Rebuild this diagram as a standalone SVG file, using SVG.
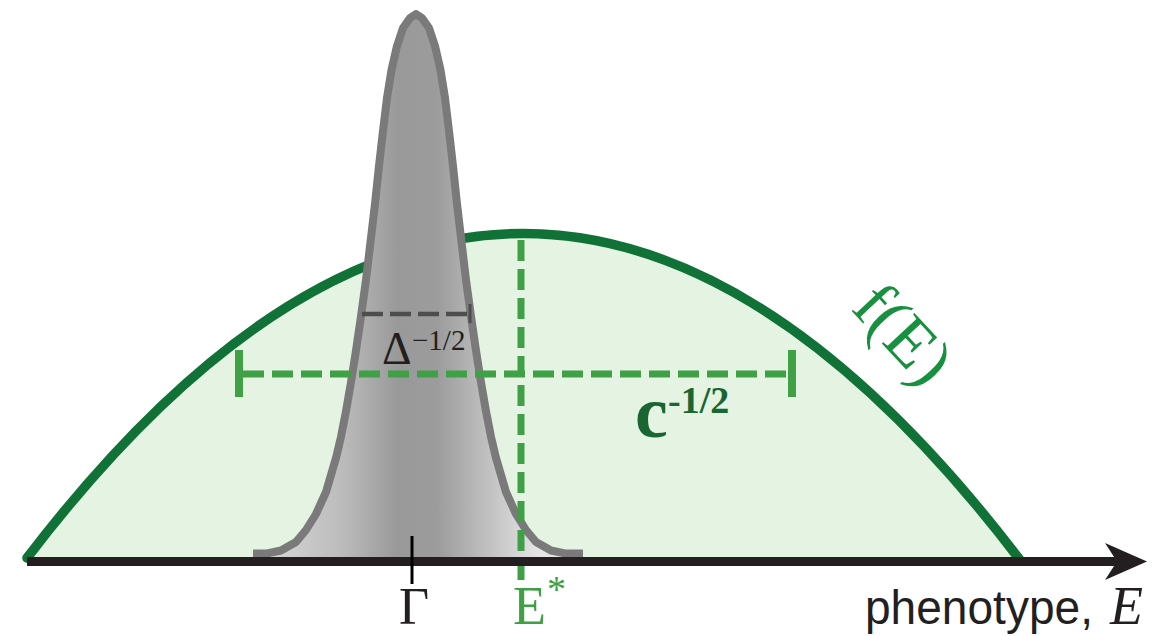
<svg xmlns="http://www.w3.org/2000/svg" width="1173" height="636" viewBox="0 0 1173 636">
  <defs>
    <linearGradient id="gaussGrad" gradientUnits="userSpaceOnUse" x1="253" y1="0" x2="583" y2="0">
      <stop offset="0" stop-color="#dcdcdc"/>
      <stop offset="0.26" stop-color="#bdbdbd"/>
      <stop offset="0.44" stop-color="#999999"/>
      <stop offset="0.56" stop-color="#9c9c9c"/>
      <stop offset="0.71" stop-color="#c0c0c0"/>
      <stop offset="0.86" stop-color="#e4e4e4"/>
      <stop offset="1" stop-color="#efefef"/>
    </linearGradient>
  </defs>
  <style>
    .gdash { fill: none; stroke: #3fa046; stroke-width: 7; stroke-dasharray: 21 8; }
    .gtick { stroke: #3fa046; stroke-width: 8; }
    .serif { font-family: "Liberation Serif", "Times New Roman", serif; }
    .sans { font-family: "Liberation Sans", Arial, sans-serif; }
  </style>

  <g id="fitness">
    <path d="M27,558 Q523.5,-92 1020,560 Z" fill="#e4f3e2"/>
    <path d="M27,558 Q523.5,-92 1020,560" fill="none" stroke="#107236" stroke-width="9.5" stroke-linecap="round"/>
  </g>

  <g id="distribution">
    <path d="M253,553.5 L266,553.6 L281,550.5 L296,542 L306,530 L316,514 L326,492 L336,458 L341,436.8 L346,411.2 L351,382.4 L356,350.6 L361,316.3 L366,280 L370.5,242 L375,204 L379,166 L383,131 L387,98 L391.5,70 L397,46 L403,28 L410,18 L416,14 L422,18 L429,28 L435,46 L440.5,70 L445,98 L449,131 L453,166 L457,204 L461.5,242 L466,280 L471,316.3 L476,350.6 L481,382.4 L486,411.2 L491,436.8 L496,458 L506,492 L516,514 L526,530 L536,542 L551,550.5 L566,553.6 L583,553.5 L583,558 L253,558 Z" fill="url(#gaussGrad)"/>
    <path d="M253,553.5 L266,553.6 L281,550.5 L296,542 L306,530 L316,514 L326,492 L336,458 L341,436.8 L346,411.2 L351,382.4 L356,350.6 L361,316.3 L366,280 L370.5,242 L375,204 L379,166 L383,131 L387,98 L391.5,70 L397,46 L403,28 L410,18 L416,14 L422,18 L429,28 L435,46 L440.5,70 L445,98 L449,131 L453,166 L457,204 L461.5,242 L466,280 L471,316.3 L476,350.6 L481,382.4 L486,411.2 L491,436.8 L496,458 L506,492 L516,514 L526,530 L536,542 L551,550.5 L566,553.6 L583,553.5" fill="none" stroke="#7a7a7a" stroke-width="8" stroke-linejoin="round"/>
  </g>

  <g id="connectors">
    <path class="gdash" d="M521,240 L521,588"/>
    <path class="gdash" d="M243,374 L792,374"/>
    <line class="gtick" x1="239" y1="350" x2="239" y2="397"/>
    <line class="gtick" x1="792" y1="350" x2="792" y2="397"/>
    <path d="M362,314 L470,314" fill="none" stroke="#4d4d4d" stroke-width="4.5" stroke-dasharray="21 7"/>
    <line x1="470" y1="304" x2="470" y2="323" stroke="#4d4d4d" stroke-width="3"/>
  </g>

  <g id="axis">
    <line x1="27" y1="561.5" x2="1120" y2="561.5" stroke="#231f20" stroke-width="9"/>
    <path d="M1147,561.5 L1105,543 L1117,561.5 L1105,580 Z" fill="#231f20"/>
    <line x1="412" y1="536" x2="412" y2="584" stroke="#000" stroke-width="3"/>
  </g>

  <g id="labels">
    <text class="serif" x="382" y="364" font-size="46" fill="#231f20">Δ</text>
    <text class="serif" x="412" y="350" font-size="29" fill="#231f20">−1/2</text>
    <text class="serif" x="635" y="437" font-size="74" font-weight="bold" fill="#1a6632">c</text>
    <text class="serif" x="668" y="413" font-size="38" font-weight="bold" fill="#1a6632">-1/2</text>
    <text class="serif" transform="translate(887,349) rotate(47)" text-anchor="middle" font-size="68" fill="#17903f">f(E)</text>
    <text class="serif" x="414" y="624" text-anchor="middle" font-size="52" fill="#231f20">Γ</text>
    <text class="serif" x="513" y="624" font-size="54" fill="#3fa046">E</text>
    <text class="serif" x="547" y="602" font-size="38" fill="#3fa046">*</text>
    <text class="sans" x="865" y="624" font-size="48" textLength="228" lengthAdjust="spacingAndGlyphs" fill="#231f20">phenotype,</text>
    <text class="serif" x="1110" y="624" font-size="54" font-style="italic" fill="#231f20">E</text>
  </g>
</svg>
